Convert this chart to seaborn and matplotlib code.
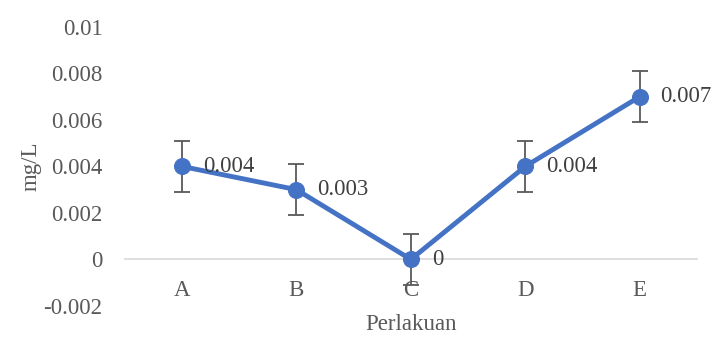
import pandas as pd
import matplotlib.pyplot as plt
import seaborn as sns

# data
perlakuan = ['A', 'B', 'C', 'D', 'E']
kadar = [0.004, 0.003, 0.0, 0.004, 0.007]
galat = [0.0011, 0.0011, 0.0011, 0.0011, 0.0011]
label_nilai = ['0.004', '0.003', '0', '0.004', '0.007']

df = pd.DataFrame({'Perlakuan': perlakuan, 'mg/L': kadar, 'err': galat})

sns.set_style('white')
plt.rcParams['font.family'] = ['Liberation Serif', 'DejaVu Serif']

fig, ax = plt.subplots(figsize=(7.17, 3.41), dpi=100)
fig.subplots_adjust(left=0.174, right=0.972, top=0.921, bottom=0.103)

blue = '#4472C4'
grey = '#595959'
fs = 16.5

ax.errorbar(range(len(perlakuan)), df['mg/L'], yerr=df['err'], fmt='none',
            ecolor=grey, elinewidth=1.3, capsize=5.5, capthick=1.3, zorder=2)
sns.lineplot(data=df, x='Perlakuan', y='mg/L', sort=False, marker='o',
             color=blue, linewidth=3.5, markersize=11.5, markeredgecolor=blue,
             ax=ax, zorder=3)

for i, (v, t) in enumerate(zip(kadar, label_nilai)):
    ax.annotate(t, (i, v), xytext=(15, 0), textcoords='offset points',
                va='center', ha='left', fontsize=fs, color='#404040', zorder=4)

ax.set_xlim(-0.5, 4.5)
ax.set_ylim(-0.002, 0.01)
ax.set_yticks([-0.002, 0, 0.002, 0.004, 0.006, 0.008, 0.01])
ax.set_yticklabels(['-0.002', '0', '0.002', '0.004', '0.006', '0.008', '0.01'])

for s in ['top', 'right', 'left']:
    ax.spines[s].set_visible(False)
ax.spines['bottom'].set_position(('data', 0))
ax.spines['bottom'].set_color('#d9d9d9')
ax.spines['bottom'].set_linewidth(1.2)
ax.spines['bottom'].set_zorder(1)

ax.tick_params(axis='both', length=0, labelsize=fs, colors='#595959')
ax.tick_params(axis='x', pad=15)
ax.tick_params(axis='y', pad=16)

ax.set_xlabel('Perlakuan', fontsize=fs, color='#595959', va='center')
ax.set_ylabel('mg/L', fontsize=fs, color='#595959', va='center')
ax.xaxis.set_label_coords(0.5, -0.068)
ax.yaxis.set_label_coords(-0.163, 0.5)

fig.savefig('out.png', dpi=100)
